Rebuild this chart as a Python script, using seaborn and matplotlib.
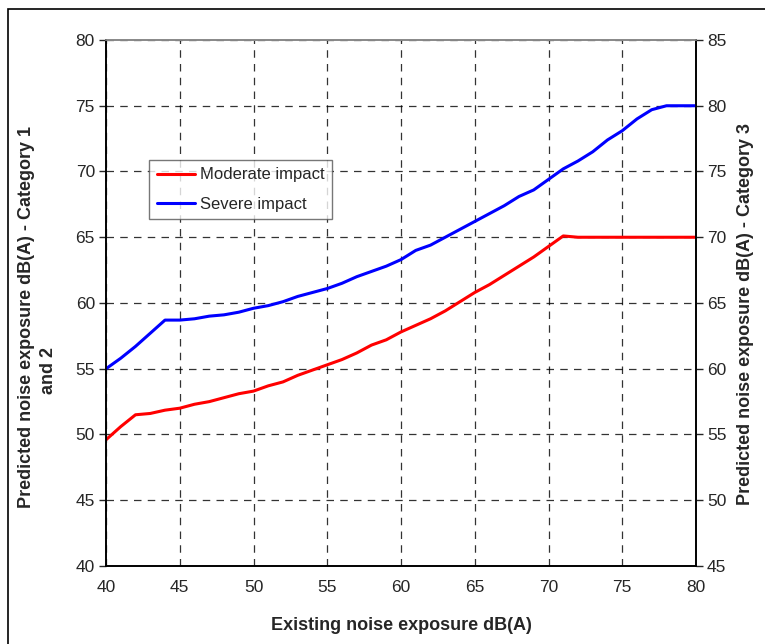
import numpy as np
import pandas as pd
import matplotlib.pyplot as plt
import seaborn as sns
from matplotlib.patches import Rectangle
from matplotlib.lines import Line2D

# ---- data ----
existing_db = list(range(40, 81))

# Moderate impact, left axis (Category 1 and 2)
moderate = [49.6, 50.6, 51.5, 51.6, 51.85, 52.0, 52.3, 52.5, 52.8, 53.1,
            53.3, 53.7, 54.0, 54.5, 54.9, 55.3, 55.7, 56.2, 56.8, 57.2,
            57.8, 58.3, 58.8, 59.4, 60.1, 60.8, 61.4, 62.1, 62.8, 63.5,
            64.3, 65.1, 65.0, 65.0, 65.0, 65.0, 65.0, 65.0, 65.0, 65.0,
            65.0]

# Severe impact, right axis (Category 3)
severe = [60.0, 60.8, 61.7, 62.7, 63.7, 63.7, 63.8, 64.0, 64.1, 64.3,
          64.6, 64.8, 65.1, 65.5, 65.8, 66.1, 66.5, 67.0, 67.4, 67.8,
          68.3, 69.0, 69.4, 70.0, 70.6, 71.2, 71.8, 72.4, 73.1, 73.6,
          74.4, 75.2, 75.8, 76.5, 77.4, 78.1, 79.0, 79.7, 80.0, 80.0,
          80.0]

df = pd.DataFrame({"x": existing_db, "moderate": moderate, "severe": severe})

sns.set_style("white")
plt.rcParams['font.family'] = ['Liberation Sans', 'DejaVu Sans']

W, H = 765, 644
fig = plt.figure(figsize=(W / 100, H / 100), dpi=100)
ax = fig.add_axes([106/W, 78/H, 590/W, 526/H])
ax2 = ax.twinx()

sns.lineplot(data=df, x="x", y="moderate", ax=ax, color="#ff0000", linewidth=2.2)
sns.lineplot(data=df, x="x", y="severe", ax=ax2, color="#0000ff", linewidth=2.2)

ax.set_xlim(40, 80)
ax.set_ylim(40, 80)
ax2.set_ylim(45, 85)
ax.set_xticks(range(40, 81, 5))
ax.set_yticks(range(40, 81, 5))
ax2.set_yticks(range(45, 86, 5))

ax.grid(True, color="black", linestyle=(0, (6, 5)), linewidth=0.9, alpha=0.8)
ax2.grid(False)

for a in (ax, ax2):
    for s in a.spines.values():
        s.set_color("black")
        s.set_linewidth(1.2)
    a.spines["top"].set_color("#888888")

ax.tick_params(axis="x", direction="inout", length=8, width=1, labelsize=12.5, pad=6)
ax.tick_params(axis="y", direction="out", length=5, width=1, labelsize=12.5, pad=3)
ax2.tick_params(axis="y", direction="out", length=5, width=1, labelsize=12.5, pad=3)

ax.set_xlabel("Existing noise exposure dB(A)", fontsize=13, fontweight="bold", labelpad=16)
ax.set_ylabel("")
ax2.set_ylabel("")

# y-axis titles placed in figure pixels
fig.text(27/W, 1 - 317/H, "Predicted noise exposure dB(A) - Category 1", rotation=90,
         ha="center", va="center", fontsize=13, fontweight="bold")
fig.text(49/W, 1 - 370/H, "and 2", rotation=90,
         ha="center", va="center", fontsize=13, fontweight="bold")
fig.text(745/W, 1 - 314/H, "Predicted noise exposure dB(A) - Category 3", rotation=90,
         ha="center", va="center", fontsize=13, fontweight="bold")

handles = [Line2D([], [], color="#ff0000", linewidth=2.2),
           Line2D([], [], color="#0000ff", linewidth=2.2)]
leg = ax2.legend(handles, ["Moderate impact", "Severe impact"], loc="upper left",
                 bbox_to_anchor=((149 - 106) / 590, (566 - 160) / 526), borderaxespad=0,
                 fontsize=12, frameon=True, fancybox=False, edgecolor="#555555",
                 handlelength=2.3, borderpad=0.45, labelspacing=0.85, handletextpad=0.3)
leg.get_frame().set_linewidth(1.0)

# outer chart border
fig.patches.append(Rectangle((8/W, -0.01), 1.0, 1 - 9/H + 0.01,
                             transform=fig.transFigure, fill=False,
                             edgecolor="black", linewidth=1.2))

fig.savefig("out.png", dpi=100)
